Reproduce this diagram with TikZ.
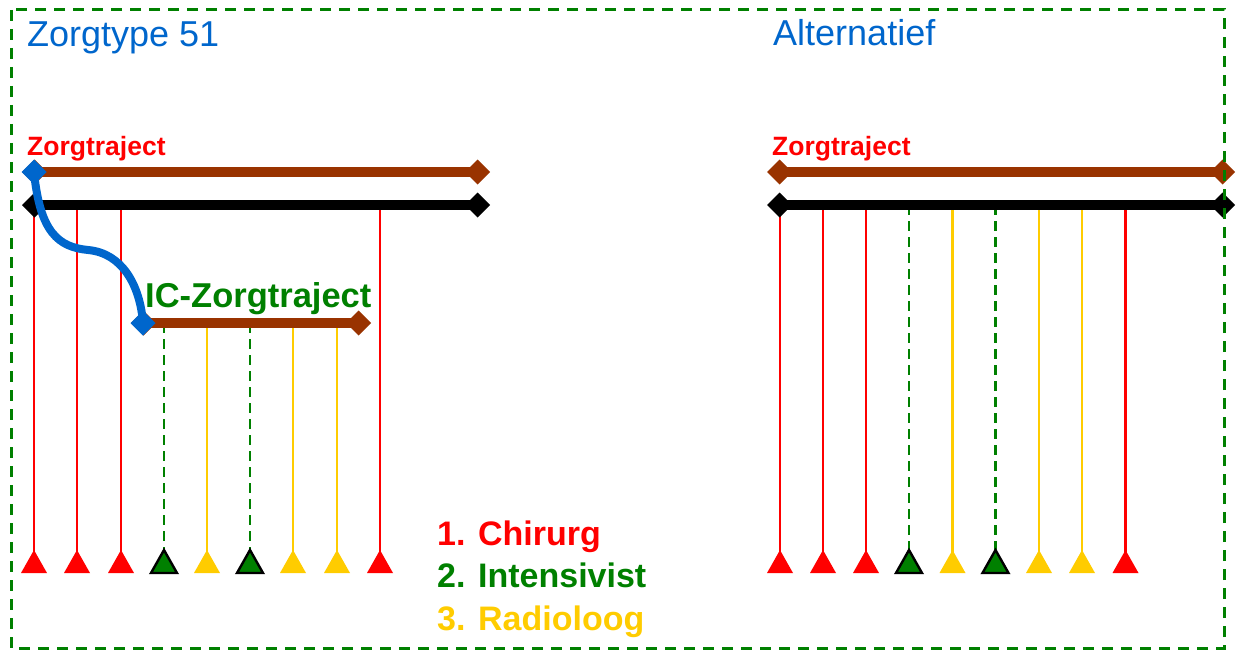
\documentclass[tikz,border=0pt]{standalone}
\usepackage{fontspec}
\setmainfont{Liberation Sans}
\usetikzlibrary{arrows.meta}
\definecolor{zblue}{HTML}{0066CC}
\definecolor{zred}{HTML}{FF0000}
\definecolor{zgreen}{HTML}{008000}
\definecolor{zyellow}{HTML}{FFCC00}
\definecolor{zbrown}{HTML}{993300}
\begin{document}
\begin{tikzpicture}[x=1pt,y=-1pt,
  bar/.style={line width=9.5pt,{Diamond[length=25pt,width=25pt]}-{Diamond[length=25pt,width=25pt]}},
  title/.style={anchor=base west,inner sep=0pt,text=zblue,font=\fontsize{36}{40}\selectfont},
  trajlabel/.style={anchor=base west,inner sep=0pt,text=zred,font=\fontsize{26.5}{30}\selectfont\bfseries},
  legend/.style={anchor=base west,inner sep=0pt,font=\fontsize{34}{38}\selectfont\bfseries},
  vr/.style={zred,line width=2.4pt},
  vy/.style={zyellow,line width=2.4pt},
  vg/.style={zgreen,line width=2.5pt,dash pattern=on 10pt off 6pt},
  tr/.style={fill=zred},
  ty/.style={fill=zyellow},
  tg/.style={fill=zgreen,draw=black,line width=2.4pt,line join=miter},
]
\useasboundingbox (0,0) rectangle (1242,650);

% titles
\node[title] (t1) at (27,47) {Zorgtype 51};
\node[title] (t2) at (773,46) {Alternatief};

% labels
\node[trajlabel] (zl1) at (27,155) {Zorgtraject};
\node[trajlabel] (zl2) at (772,155) {Zorgtraject};
\node[legend,text=zgreen,font=\fontsize{34.5}{38}\selectfont\bfseries] (ic) at (145,307) {IC-Zorgtraject};

% legend
\node[legend,text=zred] (l1) at (437,545) {1. Chirurg};
\node[legend,text=zgreen] (l2) at (437,587) {2. Intensivist};
\node[legend,text=zyellow] (l3) at (437,630) {3. Radioloog};

% vertical lines + triangles, left
\foreach \x/\s/\y in {34/r/205,77/r/205,121/r/205,164/g/323,207/y/323,250/g/323,293/y/323,337/y/323,380/r/205}{
  \draw[v\s] (\x,\y) -- (\x,553);
  \path[t\s] (\x,550) -- (\x-13,573) -- (\x+13,573) -- cycle;
}
% vertical lines + triangles, right
\foreach \x/\s in {780/r,823/r,866/r,909/g,952.5/y,995.5/g,1039/y,1082/y,1125.5/r}{
  \draw[v\s] (\x,205) -- (\x,553);
  \path[t\s] (\x,550) -- (\x-13,573) -- (\x+13,573) -- cycle;
}

% bars left
\coordinate (b1a) at (22,172);  \coordinate (b1b) at (490,172);
\coordinate (k1a) at (22,205);  \coordinate (k1b) at (490,205);
\coordinate (ica) at (131,323); \coordinate (icb) at (371,323);
\draw[bar,zbrown] (b1a) -- (b1b);
\draw[bar,black] (k1a) -- (k1b);
\draw[bar,zbrown] (ica) -- (icb);

% bars right
\coordinate (b2a) at (767,172); \coordinate (b2b) at (1235,172);
\coordinate (k2a) at (767,205); \coordinate (k2b) at (1235,205);
\draw[bar,zbrown] (b2a) -- (b2b);
\draw[bar,black] (k2a) -- (k2b);

% blue link
\coordinate (s) at (34,172);
\coordinate (e) at (143,323);
\draw[zblue,line width=8pt] (s) .. controls (40,232) and (58,247) .. (88,250)
  .. controls (122,253) and (140,285) .. (e);
\fill[zblue] (s) +(-12.5,0) -- +(0,-12.5) -- +(12.5,0) -- +(0,12.5) -- cycle;
\fill[zblue] (e) +(-12.5,0) -- +(0,-12.5) -- +(12.5,0) -- +(0,12.5) -- cycle;

% frame
\draw[zgreen,line width=3pt,dash pattern=on 11pt off 8pt] (11,10) rectangle (1224,648);
\end{tikzpicture}
\end{document}
